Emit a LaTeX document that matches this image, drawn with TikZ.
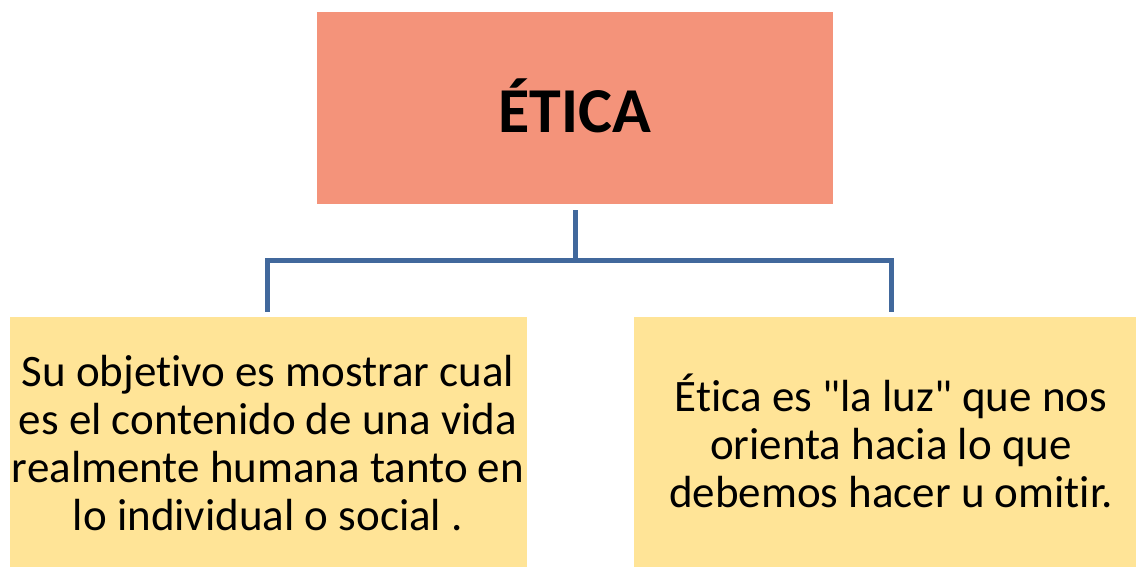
\documentclass[tikz,border=0pt]{standalone}
\usepackage{fontspec}
\newfontfamily\carl{Carlito}[Ligatures=NoCommon]
\definecolor{salmon}{HTML}{F4937A}
\definecolor{paleyellow}{HTML}{FFE497}
\definecolor{linkblue}{HTML}{41689C}
\begin{document}
\begin{tikzpicture}[x=1pt,y=-1pt,
  topbox/.style={fill=salmon, draw=none, minimum width=516pt, minimum height=192pt, inner sep=0pt},
  leafbox/.style={fill=paleyellow, draw=none, inner sep=0pt},
  leaftext/.style={align=center, font=\carl\fontsize{45}{48}\selectfont, inner sep=0pt},
  link/.style={draw=linkblue, line width=5pt, line join=miter}]
\useasboundingbox[fill=white] (0,0) rectangle (1136,567);
\node[topbox] (top) at (575,108) {};
\node[font=\carl\fontsize{64}{64}\selectfont\bfseries] (toptext) at (575,106) {ÉTICA};
\node[leafbox, minimum width=517pt, minimum height=250pt] (left) at (268,442) {};
\node[leafbox, minimum width=502pt, minimum height=250pt] (right) at (885,442) {};
\node[leaftext] (lefttext) at (268,443) {Su objetivo es mostrar cual\\es el contenido de una vida\\realmente humana tanto en\\lo individual o social .};
\node[leaftext] (righttext) at (891,441) {Ética es "la luz" que nos\\orienta hacia lo que\\debemos hacer u omitir.};
\coordinate (stub) at ([yshift=-6pt]top.south);
\coordinate (lend) at ([yshift=5pt]left.north -| 267,0);
\coordinate (rend) at ([yshift=5pt]right.north -| 891,0);
\coordinate (lcorner) at (267,260);
\coordinate (rcorner) at (891,260);
\coordinate (mid) at (575,260);
\draw[link] (stub) -- (mid);
\draw[link] (lend) -- (lcorner) -- (rcorner) -- (rend);
\end{tikzpicture}
\end{document}
